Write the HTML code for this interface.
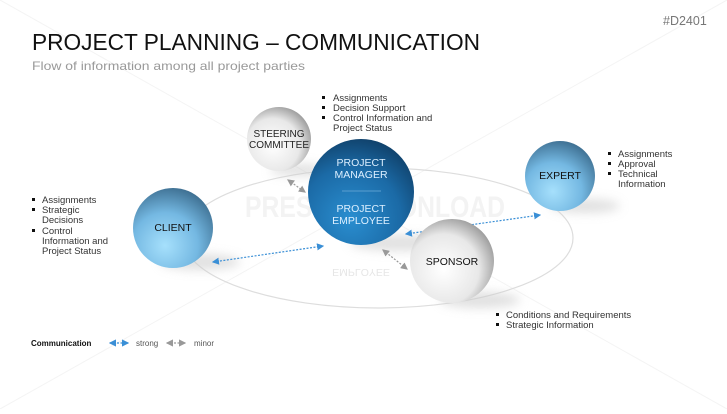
<!DOCTYPE html>
<html><head><meta charset="utf-8"><style>
body{margin:0;width:727px;height:409px;background:#fff;overflow:hidden;font-family:"Liberation Sans",sans-serif}
</style></head><body>
<svg width="727" height="409" viewBox="0 0 727 409" xmlns="http://www.w3.org/2000/svg" font-family="Liberation Sans, sans-serif">
<defs>
<radialGradient id="blue" cx="0.4" cy="0.72" r="0.75">
<stop offset="0" stop-color="#a6e0fc"/><stop offset="0.55" stop-color="#74b8e2"/><stop offset="1" stop-color="#3d6e90"/></radialGradient>
<radialGradient id="dblue" cx="0.4" cy="0.75" r="0.8">
<stop offset="0" stop-color="#2a8ed0"/><stop offset="0.6" stop-color="#1b6aa6"/><stop offset="1" stop-color="#0f3e66"/></radialGradient>
<radialGradient id="gray" cx="0.4" cy="0.6" r="0.7">
<stop offset="0" stop-color="#ffffff"/><stop offset="0.6" stop-color="#e8e8e8"/><stop offset="1" stop-color="#8a8a8a"/></radialGradient>
<marker id="ab" markerWidth="6" markerHeight="6" refX="5" refY="3" orient="auto-start-reverse"><path d="M0,0 L6,3 L0,6 z" fill="#3a8fd6"/></marker>
<marker id="ag" markerWidth="6" markerHeight="6" refX="5" refY="3" orient="auto-start-reverse"><path d="M0,0 L6,3 L0,6 z" fill="#999"/></marker>
<filter id="bl"><feGaussianBlur stdDeviation="5"/></filter>
</defs>
<g stroke="#f4f4f4" stroke-width="1" fill="none">
<line x1="0" y1="0" x2="727" y2="409"/><line x1="727" y1="0" x2="0" y2="409"/>
</g>
<ellipse cx="378" cy="238" rx="195" ry="70" fill="none" stroke="#ddd" stroke-width="1.2"/>
<text x="245" y="217" font-size="30" font-weight="bold" fill="#f3f3f3" textLength="260" lengthAdjust="spacingAndGlyphs">PRESENTATIONLOAD</text>
<g filter="url(#bl)" fill="#ccc" opacity="0.6">
<ellipse cx="200" cy="262" rx="40" ry="8"/><ellipse cx="300" cy="170" rx="30" ry="6"/>
<ellipse cx="400" cy="243" rx="50" ry="8"/><ellipse cx="585" cy="206" rx="35" ry="7"/><ellipse cx="480" cy="300" rx="40" ry="8"/>
</g>
<text x="663" y="25" font-size="12.5" fill="#777">#D2401</text>
<text x="32" y="50" font-size="23" fill="#111" textLength="448" lengthAdjust="spacingAndGlyphs">PROJECT PLANNING – COMMUNICATION</text>
<text x="32" y="70" font-size="12" fill="#999" textLength="273" lengthAdjust="spacingAndGlyphs">Flow of information among all project parties</text>

<line x1="213" y1="262" x2="323" y2="246" stroke="#3a8fd6" stroke-width="1.2" stroke-dasharray="2,1.5" marker-start="url(#ab)" marker-end="url(#ab)"/>
<line x1="288" y1="180" x2="305" y2="192" stroke="#999" stroke-width="1.2" stroke-dasharray="2,1.5" marker-start="url(#ag)" marker-end="url(#ag)"/>
<line x1="383" y1="250" x2="407" y2="269" stroke="#999" stroke-width="1.2" stroke-dasharray="2,1.5" marker-start="url(#ag)" marker-end="url(#ag)"/>
<line x1="406" y1="234" x2="540" y2="215" stroke="#3a8fd6" stroke-width="1.2" stroke-dasharray="2,1.5" marker-start="url(#ab)" marker-end="url(#ab)"/>

<circle cx="279" cy="139" r="32" fill="url(#gray)"/>
<text x="279" y="137" font-size="10" text-anchor="middle" fill="#222">STEERING</text>
<text x="279" y="148" font-size="10" text-anchor="middle" fill="#222">COMMITTEE</text>

<circle cx="361" cy="192" r="53" fill="url(#dblue)"/>
<text x="361" y="166" font-size="10.5" text-anchor="middle" fill="#dcefff">PROJECT</text>
<text x="361" y="178" font-size="10.5" text-anchor="middle" fill="#dcefff">MANAGER</text>
<line x1="342" y1="191" x2="381" y2="191" stroke="#5a9fd0"/>
<text x="361" y="212" font-size="10.5" text-anchor="middle" fill="#dcefff">PROJECT</text>
<text x="361" y="224" font-size="10.5" text-anchor="middle" fill="#dcefff">EMPLOYEE</text>
<text x="361" y="271" font-size="10.5" text-anchor="middle" fill="#e6e6e6" transform="scale(1,-1) translate(0,-540)">EMPLOYEE</text>

<circle cx="173" cy="228" r="40" fill="url(#blue)"/>
<text x="173" y="231" font-size="10.5" text-anchor="middle" fill="#111">CLIENT</text>

<circle cx="452" cy="261" r="42" fill="url(#gray)"/>
<text x="452" y="265" font-size="10.5" text-anchor="middle" fill="#111">SPONSOR</text>

<circle cx="560" cy="176" r="35" fill="url(#blue)"/>
<text x="560" y="179" font-size="10.5" text-anchor="middle" fill="#111">EXPERT</text>

<g font-size="9.5" fill="#333">
<g fill="#111"><rect x="322" y="96" width="3" height="3"/><rect x="322" y="106" width="3" height="3"/><rect x="322" y="116" width="3" height="3"/>
<rect x="32" y="198" width="3" height="3"/><rect x="32" y="208" width="3" height="3"/><rect x="32" y="229" width="3" height="3"/>
<rect x="608" y="152" width="3" height="3"/><rect x="608" y="162" width="3" height="3"/><rect x="608" y="172" width="3" height="3"/>
<rect x="496" y="313" width="3" height="3"/><rect x="496" y="323" width="3" height="3"/></g>
<text x="333" y="101">Assignments</text><text x="333" y="111">Decision Support</text><text x="333" y="121">Control Information and</text><text x="333" y="131">Project Status</text>
<text x="42" y="203">Assignments</text><text x="42" y="213">Strategic</text><text x="42" y="223">Decisions</text><text x="42" y="234">Control</text><text x="42" y="244">Information and</text><text x="42" y="254">Project Status</text>
<text x="618" y="157">Assignments</text><text x="618" y="167">Approval</text><text x="618" y="177">Technical</text><text x="618" y="187">Information</text>
<text x="506" y="318">Conditions and Requirements</text><text x="506" y="328">Strategic Information</text>
</g>
<text x="31" y="346" font-size="8" font-weight="bold" fill="#111">Communication</text>
<line x1="110" y1="343" x2="128" y2="343" stroke="#3a8fd6" stroke-width="1.2" stroke-dasharray="2,1.5" marker-start="url(#ab)" marker-end="url(#ab)"/>
<text x="136" y="346" font-size="8" fill="#555">strong</text>
<line x1="167" y1="343" x2="185" y2="343" stroke="#999" stroke-width="1.2" stroke-dasharray="2,1.5" marker-start="url(#ag)" marker-end="url(#ag)"/>
<text x="194" y="346" font-size="8" fill="#555">minor</text>
</svg>
</body></html>
